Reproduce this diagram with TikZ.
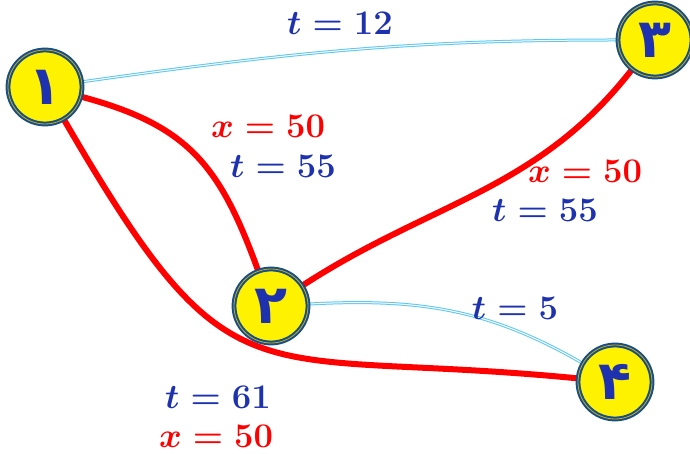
\documentclass[tikz,border=0pt]{standalone}
\usepackage{amsmath}
\usepackage{fontspec}
\usepackage{tikz}
\usetikzlibrary{backgrounds}
\newfontfamily\arabicfont[Script=Arabic]{DejaVu Sans}
\TeXXeTstate=1
\definecolor{ringblue}{RGB}{22, 78, 140}
\definecolor{ringgold}{RGB}{200, 170, 20}
\definecolor{labelblue}{RGB}{30, 50, 175}
\definecolor{pathred}{RGB}{255, 0, 0}
\definecolor{linkcyan}{RGB}{90, 200, 240}

\tikzset{
    vertex/.style={circle, fill=yellow, draw=ringblue, line width=1pt,
        double=ringgold, double distance=0.4pt, minimum size=37pt, inner sep=0pt,
        text=labelblue, font=\arabicfont\bfseries\fontsize{27}{29}\selectfont},
    redpath/.style={line width=3pt, pathred},
    thinlink/.style={draw=linkcyan, line width=0.5pt, double=white, double distance=0.5pt},
    tlabel/.style={labelblue, font=\boldmath\fontsize{19}{21}\selectfont},
    xlabel/.style={pathred, font=\boldmath\fontsize{19}{21}\selectfont}
}

\begin{document}
\begin{tikzpicture}[x=0.5pt, y=0.5pt]
    \useasboundingbox (0,0) rectangle (690,454);

    % Vertices
    \node[vertex] (N1) at (45,367) {\beginR ۱\endR};
    \node[vertex] (N2) at (271,148) {\beginR ۲\endR};
    \node[vertex] (N3) at (655,414) {\beginR ۳\endR};
    \node[vertex] (N4) at (615,72) {\beginR ۴\endR};

    \begin{pgfonlayer}{background}
    % Thin links
    \draw[thinlink] (N1) to[out=8, in=180] (N3);
    \draw[thinlink] (N2) to[out=3, in=150] (N4);

    % Red paths
    \draw[redpath] (N1) to[out=-15, in=110, looseness=1.15] (N2);
    \draw[redpath] (N1) .. controls (235,40) and (245,108) .. (N4);
    \draw[redpath] (N2) to[out=33, in=-128] (N3);
    \end{pgfonlayer}

    % Labels
    \node[tlabel] (t13) at (340,431) {$t=12$};
    \node[xlabel] (x12) at (268,328) {$x=50$};
    \node[tlabel] (t12) at (283,288) {$t=55$};
    \node[xlabel] (x23) at (585,283) {$x=50$};
    \node[tlabel] (t23) at (545,244) {$t=55$};
    \node[tlabel] (t24) at (515,146) {$t=5$};
    \node[tlabel] (t14) at (218,57) {$t=61$};
    \node[xlabel] (x14) at (216,18) {$x=50$};
\end{tikzpicture}
\end{document}
